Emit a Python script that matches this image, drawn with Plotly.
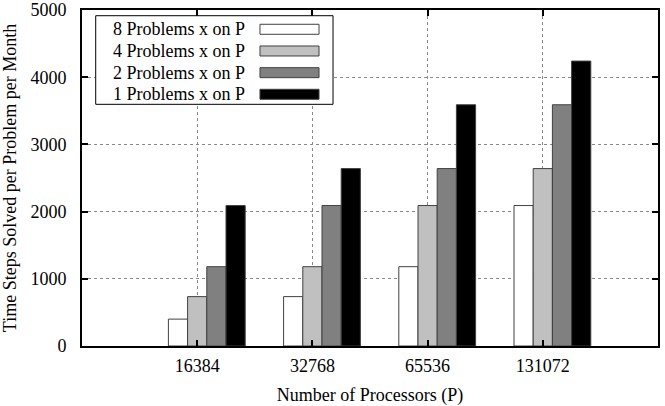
import plotly.graph_objects as go

categories = ["16384", "32768", "65536", "131072"]
series_names = ["8 Problems x on P", "4 Problems x on P", "2 Problems x on P", "1 Problems x on P"]
s8 = [400, 735, 1180, 2090]
s4 = [735, 1180, 2090, 2640]
s2 = [1180, 2090, 2640, 3590]
s1 = [2090, 2640, 3590, 4240]
y_ticks = [0, 1000, 2000, 3000, 4000, 5000]

series = [s8, s4, s2, s1]
colors = ["#ffffff", "#c0c0c0", "#808080", "#000000"]
xpos = list(range(1, len(categories) + 1))
bw = 1 / 6
offsets = [-1.5 * bw, -0.5 * bw, 0.5 * bw, 1.5 * bw]

FONT = "Liberation Serif, Times New Roman, serif"
FS = 18

fig = go.Figure()
for name, vals, col, off in zip(series_names, series, colors, offsets):
    fig.add_trace(go.Bar(
        x=xpos, y=vals, name=name, width=bw, offset=off,
        marker=dict(color=col, line=dict(color="#404040", width=1)),
        showlegend=False,
    ))

# manual gnuplot-style legend (text right-aligned, swatch on the right)
fig.add_shape(type="rect", xref="paper", yref="paper",
              x0=0.0238, x1=0.4358, y0=0.7193, y1=0.983,
              line=dict(color="black", width=1), fillcolor="white", layer="above")
rows = [0.9426, 0.8780, 0.8135, 0.7491]
for name, col, yy in zip(series_names, colors, rows):
    fig.add_annotation(xref="paper", yref="paper", x=0.2865, y=yy, text=name,
                       showarrow=False, xanchor="right", yanchor="middle",
                       font=dict(family=FONT, size=FS, color="black"))
    fig.add_shape(type="rect", xref="paper", yref="paper",
                  x0=0.309, x1=0.4115, y0=yy - 0.0149, y1=yy + 0.0149,
                  line=dict(color="#404040", width=1), fillcolor=col, layer="above")

fig.update_layout(
    width=665, height=406,
    margin=dict(l=82, r=7, t=10, b=60),
    barmode="overlay",
    paper_bgcolor="white", plot_bgcolor="white",
    font=dict(family=FONT, size=FS, color="black"),
)
fig.update_xaxes(
    range=[0, 5], tickvals=xpos, ticktext=categories,
    showline=True, linecolor="black", linewidth=2, mirror="ticks",
    ticks="inside", ticklen=6, tickwidth=1.5, tickcolor="black",
    ticklabelstandoff=2, automargin=False,
    showgrid=True, gridcolor="#888888", griddash="dot", gridwidth=1,
    zeroline=False,
    title=dict(text="Number of Processors (P)", font=dict(family=FONT, size=FS), standoff=19),
)
fig.update_yaxes(
    range=[0, 5000], tickvals=y_ticks,
    showline=True, linecolor="black", linewidth=2, mirror="ticks",
    ticks="inside", ticklen=6, tickwidth=1.5, tickcolor="black",
    ticklabelstandoff=10, automargin=False,
    showgrid=True, gridcolor="#888888", griddash="dot", gridwidth=1,
    zeroline=False,
    title=dict(text="Time Steps Solved per Problem per Month", font=dict(family=FONT, size=FS), standoff=10),
)

fig.write_html("out.html")
